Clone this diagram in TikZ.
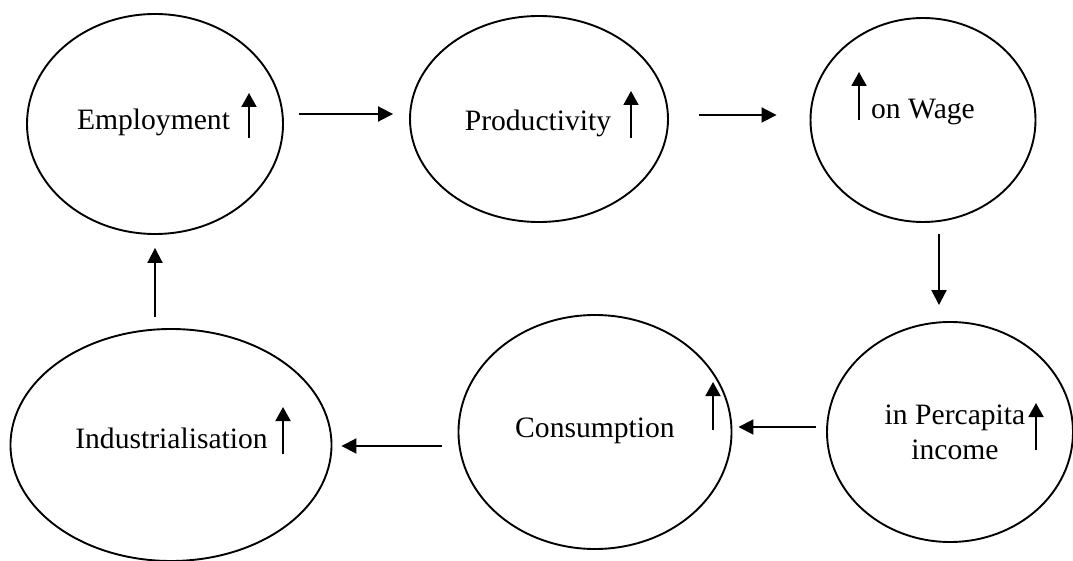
\documentclass[tikz,border=0pt]{standalone}
\usepackage{fontspec}
\setmainfont{Liberation Serif}
\usetikzlibrary{shapes.geometric,arrows.meta}
\begin{document}
\begin{tikzpicture}[x=1pt,y=-1pt,
  ell/.style={draw,ellipse,line width=1.9pt,inner sep=0pt},
  lbl/.style={anchor=base,inner sep=0pt,font=\fontsize{29.6}{35}\selectfont,align=center},
  conn/.style={line width=1.9pt,-{Triangle[length=15pt,width=15pt]}},
  uparr/.style={line width=1.9pt,-{Triangle[length=14pt,width=15pt]}}]
\useasboundingbox (0,0) rectangle (1073,561);
% ellipses
\node[ell,minimum width=256,minimum height=220] (emp) at (155,124) {};
\node[ell,minimum width=258,minimum height=206] (prod) at (539,119) {};
\node[ell,minimum width=225,minimum height=204] (wage) at (923,120) {};
\node[ell,minimum width=246,minimum height=220] (pc) at (950,432) {};
\node[ell,minimum width=273,minimum height=234] (cons) at (595,432) {};
\node[ell,minimum width=321,minimum height=232] (ind) at (171,445) {};
% labels
\node[lbl] (tEmp) at (153.5,130) {Employment};
\node[lbl] (tProd) at (538,131) {Productivity};
\node[lbl] (tWage) at (923,119) {on Wage};
\node[lbl] (tPc1) at (955,424) {in Percapita};
\node[lbl] (tPc2) at (955,459) {income};
\node[lbl] (tCons) at (595,437) {Consumption};
\node[lbl] (tInd) at (171.5,448) {Industrialisation};
% small up arrows
\draw[uparr] (249,138) -- (249,93);
\draw[uparr] (631,138) -- (631,91);
\draw[uparr] (859,120) -- (859,72);
\draw[uparr] (1036,450) -- (1036,403);
\draw[uparr] (713,430) -- (713,382);
\draw[uparr] (283,454) -- (283,407);
% connectors
\draw[conn] ([shift={(15,-10)}]emp.east) -- ([shift={(-16,-5)}]prod.west);
\draw[conn] ([shift={(30,-4)}]prod.east) -- ([shift={(-33,-5)}]wage.west);
\draw[conn] ([shift={(16,11)}]wage.south) -- ([shift={(-11,-16)}]pc.north);
\draw[conn] ([shift={(-10,-5)}]pc.west) -- ([shift={(6,-5)}]cons.east);
\draw[conn] ([shift={(-16,14)}]cons.west) -- ([shift={(9,1)}]ind.east);
\draw[conn] ([shift={(-16,-11)}]ind.north) -- ([shift={(0,13)}]emp.south);
\end{tikzpicture}
\end{document}
